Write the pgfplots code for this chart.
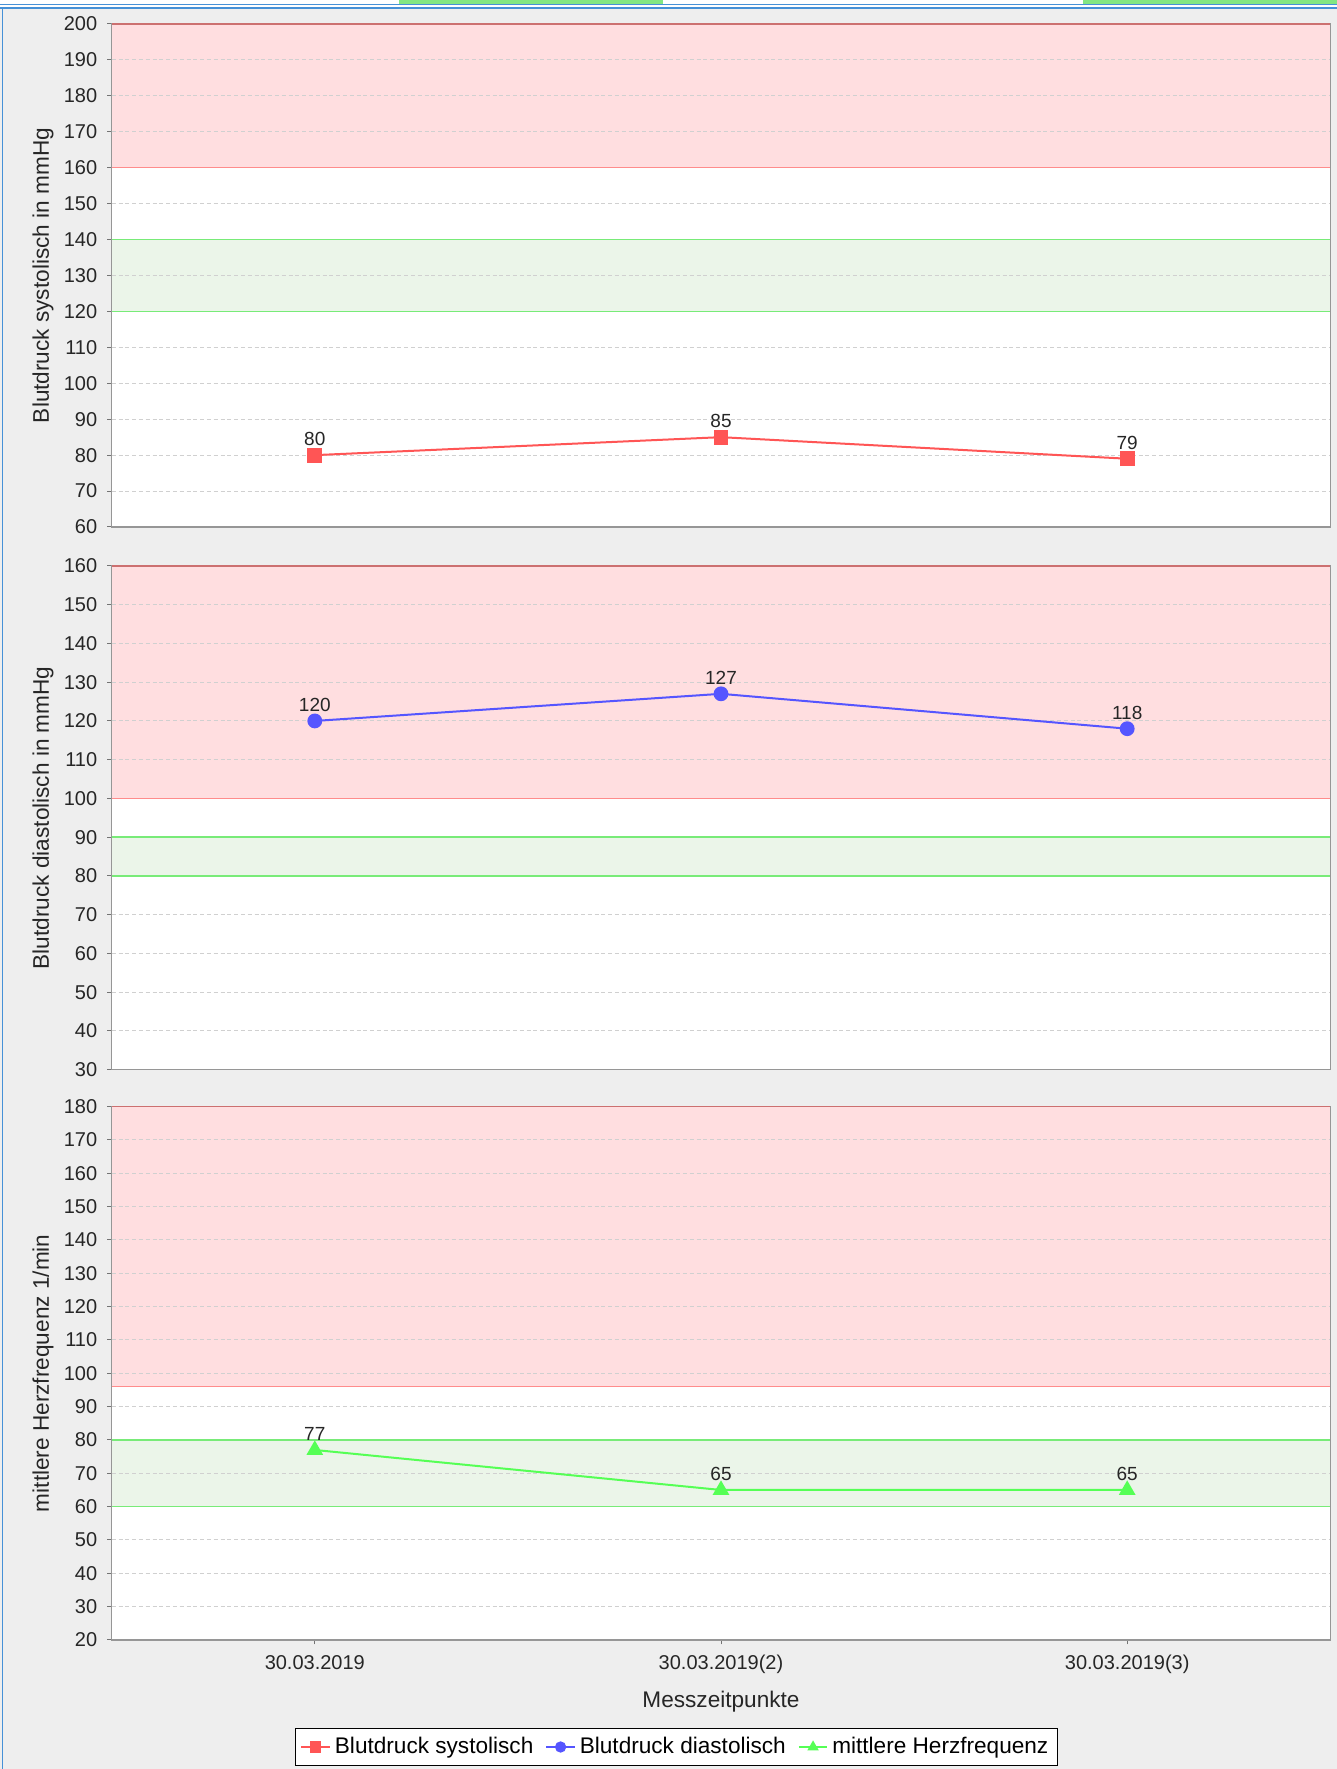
\documentclass[border=0pt]{standalone}
\usepackage{pgfplots}
\pgfplotsset{compat=1.18}
\usepackage{fontspec}
\setmainfont{Liberation Sans}

\definecolor{bggray}{RGB}{238,238,238}
\definecolor{bandred}{RGB}{255,222,224}
\definecolor{linered}{RGB}{255,140,140}
\definecolor{bandgreen}{RGB}{235,245,233}
\definecolor{linegreen}{RGB}{120,235,120}
\definecolor{sred}{RGB}{255,85,85}
\definecolor{sblue}{RGB}{85,85,255}
\definecolor{sgreen}{RGB}{85,255,85}
\definecolor{gridgray}{RGB}{208,208,208}
\definecolor{framegray}{RGB}{150,150,150}
\definecolor{winblue}{RGB}{70,145,215}
\definecolor{tabgreen}{RGB}{130,230,130}

\pagecolor{bggray}

\pgfplotsset{
  panel/.style={
    scale only axis, width=609.3pt, set layers,
    xmin=-0.5, xmax=2.5,
    ytick distance=10,
    ymajorgrids,
    major grid style={gridgray, dash pattern=on 2pt off 1.4pt, line width=0.5pt},
    axis line style={framegray, line width=0.6pt},
    tick style={black!55, line width=0.5pt},
    tick align=outside, major tick length=2.2pt,
    ytick pos=left, xtick pos=left,
    /pgf/number format/assume math mode=true,
    tick label style={font=\fontsize{10}{12}\selectfont, text=black!85},
    yticklabel style={xshift=-1.5pt},
    xticklabel style={yshift=-2pt},
    label style={font=\fontsize{11.3}{13}\selectfont, text=black!85},
    ylabel style={at={(axis description cs:-0.0564,0.5)}, anchor=center},
  },
  series/.style={
    line width=1pt, mark size=3.2pt,
    mark options={solid},
    nodes near coords,
    nodes near coords style={font=\fontsize{9.5}{11}\selectfont, text=black!85,
      anchor=south, inner sep=0pt, yshift=4.2pt},
  },
  legend image code/.code={
    \draw[mark repeat=2, mark phase=2, #1, mark size=2.3pt]
      plot coordinates {(0cm,0cm) (0.25cm,0cm) (0.5cm,0cm)};
  },
}

% white plot area with a red and a green band
\newcommand\bands[4]{%
  \pgfplotsextra{%
    \begin{pgfonlayer}{axis background}
      \fill[white] (rel axis cs:0,0) rectangle (rel axis cs:1,1);
      \fill[bandred] (axis cs:-0.5,#1) rectangle (axis cs:2.5,#2);
      \fill[bandgreen] (axis cs:-0.5,#3) rectangle (axis cs:2.5,#4);
    \end{pgfonlayer}%
  }%
  \draw[linered, line width=0.7pt] (axis cs:-0.5,#1) -- (axis cs:2.5,#1);
  \draw[linered!80!black, line width=0.9pt] (axis cs:-0.5,#2) -- (axis cs:2.5,#2);
  \draw[linegreen, line width=0.7pt] (axis cs:-0.5,#3) -- (axis cs:2.5,#3);
  \draw[linegreen, line width=0.7pt] (axis cs:-0.5,#4) -- (axis cs:2.5,#4);
}

\begin{document}
\begin{tikzpicture}
% window chrome at the top and on the left
\fill[white] (0,880.5pt) rectangle (668.5pt,884.5pt);
\fill[tabgreen] (199.5pt,882.5pt) rectangle (331.5pt,884.5pt);
\fill[tabgreen] (541.5pt,882.5pt) rectangle (668.5pt,884.5pt);
\draw[winblue, line width=0.7pt] (0,882.3pt) -- (668.5pt,882.3pt);
\draw[winblue, line width=0.7pt] (0,880.5pt) -- (668.5pt,880.5pt);
\draw[winblue, line width=0.9pt] (1.2pt,0) -- (1.2pt,880.5pt);

% systolic
\begin{axis}[panel, at={(55.85pt,621pt)}, anchor=south west, height=251.5pt,
  ymin=60, ymax=200, xtick=\empty,
  ylabel={Blutdruck systolisch in mmHg}]
  \bands{160}{200}{120}{140}
  \addplot[series, sred, mark=square*] coordinates {(0,80) (1,85) (2,79)};
\end{axis}

% diastolic
\begin{axis}[panel, at={(55.85pt,349.7pt)}, anchor=south west, height=251.8pt,
  ymin=30, ymax=160, xtick=\empty,
  ylabel={Blutdruck diastolisch in mmHg}]
  \bands{100}{160}{80}{90}
  \addplot[series, sblue, mark=*] coordinates {(0,120) (1,127) (2,118)};
\end{axis}

% heart rate
\begin{axis}[panel, at={(55.85pt,64.5pt)}, anchor=south west, height=266.7pt,
  ymin=20, ymax=180,
  xtick={0,1,2},
  xticklabels={30.03.2019, 30.03.2019(2), 30.03.2019(3)},
  xlabel={Messzeitpunkte},
  xlabel style={at={(axis description cs:0.5,-0.1153)}, anchor=center},
  ylabel={mittlere Herzfrequenz 1/min},
  legend columns=3,
  legend style={at={(axis description cs:0.4634,-0.2006)}, anchor=center,
    draw=black, line width=0.8pt, fill=white,
    font=\fontsize{11.3}{13}\selectfont, inner sep=2.5pt,
    /tikz/every even column/.append style={column sep=4pt}},
  ]
  \bands{96}{180}{60}{80}
  \addlegendimage{sred, line width=1pt, mark=square*}
  \addlegendentry{Blutdruck systolisch}
  \addlegendimage{sblue, line width=1pt, mark=*}
  \addlegendentry{Blutdruck diastolisch}
  \addplot[series, sgreen, mark=triangle*, mark size=3.8pt] coordinates {(0,77) (1,65) (2,65)};
  \addlegendentry{mittlere Herzfrequenz}
\end{axis}

\pgfresetboundingbox
\path[use as bounding box] (0,0) rectangle (668.5pt,884.5pt);
\end{tikzpicture}
\end{document}
